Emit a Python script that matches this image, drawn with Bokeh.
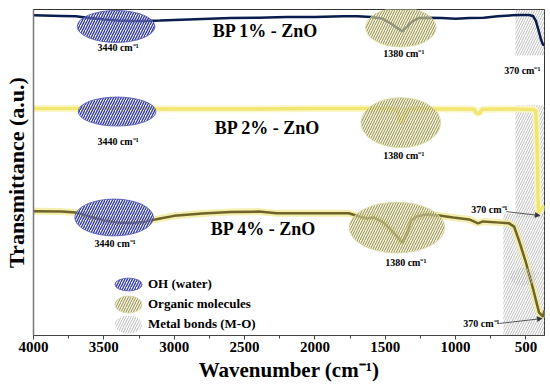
from bokeh.plotting import figure
from bokeh.models import (Range1d, FixedTicker, Label, Arrow, NormalHead,
                          Legend, LegendItem, ColumnDataSource)
from bokeh.embed import file_html
from bokeh.resources import INLINE

# ---------------- data ----------------
series_names = ["BP 1% - ZnO", "BP 2% - ZnO", "BP 4% - ZnO"]

wn_bp1 = [4000, 3800, 3700, 3600, 3500, 3400, 3300, 3200, 3100, 3000,
          2800, 2600, 2400, 2200, 2000, 1800, 1700, 1600, 1520, 1460,
          1410, 1380, 1350, 1310, 1260, 1200, 1100, 1000, 900, 800,
          700, 600, 540, 480, 450, 430, 410, 395, 380, 370]
t_bp1 = [98.2, 98.0, 97.9, 97.4, 96.9, 96.6, 96.5, 96.5, 96.6, 96.8,
         97.1, 97.4, 97.5, 97.7, 97.7, 97.9, 97.9, 97.7, 97.2, 95.7,
         94.2, 93.3, 94.5, 96.3, 97.4, 97.5, 97.4, 97.2, 97.4, 97.5,
         97.9, 98.2, 98.3, 98.3, 98.0, 96.6, 93.6, 91.1, 89.3, 89.0]

wn_bp2 = [4000, 3500, 3000, 2500, 2000, 1600, 1450, 1410, 1395, 1370,
          1350, 1300, 1000, 870, 850, 830, 810, 600, 450, 430,
          420, 412, 400, 385, 372]
t_bp2 = [69.6, 69.6, 69.5, 69.5, 69.6, 69.6, 69.5, 69.2, 65.8, 65.8,
         69.2, 69.5, 69.5, 69.4, 68.2, 68.2, 69.4, 69.5, 69.3, 69.0,
         56.7, 37.7, 38.3, 39.0, 39.9]

wn_bp4 = [4000, 3800, 3700, 3600, 3500, 3400, 3300, 3200, 3100, 3000,
          2800, 2600, 2400, 2270, 1760, 1683, 1633, 1584, 1513, 1442,
          1378, 1343, 1314, 1279, 1208, 1116, 1017, 903, 840, 804,
          712, 620, 584, 549, 500, 450, 407, 379, 368]
t_bp4 = [38.1, 38.0, 37.7, 36.5, 35.3, 34.7, 34.5, 35.0, 35.9, 36.7,
         37.4, 37.9, 38.0, 37.5, 37.5, 36.5, 35.9, 36.2, 34.7, 31.6,
         28.5, 31.6, 35.3, 36.5, 37.1, 36.8, 36.2, 35.6, 34.4, 35.0,
         34.7, 34.4, 33.4, 29.1, 22.4, 14.4, 7.1, 5.8, 7.7]

x_ticks = [4000, 3500, 3000, 2500, 2000, 1500, 1000, 500]
x_minor = [3750, 3250, 2750, 2250, 1750, 1250, 750]

peak_texts = ["3440 cm\u207b\u00b9", "1380 cm\u207b\u00b9", "370 cm\u207b\u00b9"]
legend_labels = ["OH (water)", "Organic molecules", "Metal bonds (M-O)"]
x_title = "Wavenumber (cm\u207b\u00b9)"
y_title = "Transmittance (a.u.)"

# band highlight regions (annotations)
oh_x = [3413, 3406, 3427]
oh_y = [94.8, 68.7, 36.2]
oh_w = [552, 552, 559]
oh_h = [9.8, 8.9, 11.3]

org_x = [1389, 1389, 1417]
org_y = [94.5, 65.3, 33.1]
org_w = [502, 566, 679]
org_h = [12.0, 15.3, 15.6]

mo_left = [575, 575, 660]
mo_right = [368, 368, 368]
mo_top = [100, 70.6, 37.4]
mo_bottom = [85.9, 36.2, 0]

# text annotation positions
name_x = [2351, 2337, 2366]
name_y = [93.3, 63.5, 32.8]
oh_lab_x = [3399, 3399, 3420]
oh_lab_y = [88.3, 59.5, 28.2]
org_lab_x = [1368, 1368, 1354]
org_lab_y = [86.5, 55.2, 22.4]
mo_lab_x = [526, 759, 816]
mo_lab_y = [81.3, 38.6, 3.7]
arrow_x0 = [639, 689]
arrow_y0 = [38.0, 3.7]
arrow_x1 = [399, 384]
arrow_y1 = [36.8, 5.2]

SERIF = "Liberation Serif"

p = figure(width=548, height=384, output_backend="svg", toolbar_location=None,
           x_range=Range1d(4000, 368), y_range=Range1d(0, 100),
           min_border_left=31, min_border_right=4, min_border_top=9,
           min_border_bottom=49)
p.xgrid.visible = False
p.ygrid.visible = False
p.outline_line_color = "#333333"
p.outline_line_width = 1
p.background_fill_color = "white"

# x axis
p.xaxis.ticker = FixedTicker(ticks=x_ticks, minor_ticks=x_minor)
p.xaxis.major_label_text_font = SERIF
p.xaxis.major_label_text_font_style = "bold"
p.xaxis.major_label_text_font_size = "15px"
p.xaxis.major_label_text_color = "black"
p.xaxis.major_tick_in = 0
p.xaxis.major_tick_out = 4
p.xaxis.minor_tick_in = 0
p.xaxis.minor_tick_out = 3
p.xaxis.major_label_standoff = 2
p.xaxis.axis_line_color = "#444444"
p.xaxis.major_tick_line_color = "#444444"
p.xaxis.minor_tick_line_color = "#444444"
p.xaxis.axis_label = x_title
p.xaxis.axis_label_text_font = SERIF
p.xaxis.axis_label_text_font_style = "bold"
p.xaxis.axis_label_text_font_size = "21px"
p.xaxis.axis_label_text_color = "black"
p.xaxis.axis_label_standoff = 3

# y axis
p.yaxis.ticker = FixedTicker(ticks=[])
p.yaxis.major_tick_out = 0
p.yaxis.major_tick_in = 0
p.yaxis.minor_tick_out = 0
p.yaxis.minor_tick_in = 0
p.yaxis.axis_line_color = "#7a7a7a"
p.yaxis.axis_line_width = 1.5
p.yaxis.axis_label = y_title
p.yaxis.axis_label_text_font = SERIF
p.yaxis.axis_label_text_font_style = "bold"
p.yaxis.axis_label_text_font_size = "22px"
p.yaxis.axis_label_text_color = "black"
p.yaxis.axis_label_standoff = 5

HS = 5

# metal bond regions
p.quad(left=mo_left, right=mo_right, top=mo_top, bottom=mo_bottom,
       fill_color="white", fill_alpha=0.0, line_color=None,
       hatch_pattern="/", hatch_color="#bdbdbd", hatch_scale=HS, hatch_weight=1.0)

# series lines
p.line(wn_bp2, t_bp2, line_color="#faf5c4", line_width=7, line_alpha=0.9)
p.line(wn_bp2, t_bp2, line_color="#f2e672", line_width=3.5)
p.line(wn_bp4, t_bp4, line_color="#f1ea9c", line_width=7, line_alpha=0.8)
p.line(wn_bp4, t_bp4, line_color="#6e6428", line_width=2.5)
p.line(wn_bp1, t_bp1, line_color="#0b1d4e", line_width=2.5)

# band ellipses
r_oh = p.ellipse(x=oh_x, y=oh_y, width=oh_w, height=oh_h,
                 fill_color="#e8eaf8", fill_alpha=0.4,
                 line_color="#4b52b2", line_width=0.8,
                 hatch_pattern="/", hatch_color="#2f37a3", hatch_scale=HS, hatch_weight=1.3)
r_org = p.ellipse(x=org_x, y=org_y, width=org_w, height=org_h,
                  fill_color="#f4f1c8", fill_alpha=0.6,
                  line_color="#dcd7a0", line_width=0.8,
                  hatch_pattern="/", hatch_color="#8d8850", hatch_scale=HS, hatch_weight=1.0)
# grey ellipse (legend key for the metal-bond regions), sits inside the last region
mo_key_src = ColumnDataSource(dict(x=[519], y=[18.0], w=[191], h=[5.5]))
r_mo = p.ellipse(x="x", y="y", width="w", height="h", source=mo_key_src,
                 fill_alpha=0.0, line_color=None,
                 hatch_pattern="/", hatch_color="#bdbdbd", hatch_scale=HS, hatch_weight=1.0)

# texts
for i, name in enumerate(series_names):
    p.add_layout(Label(x=name_x[i], y=name_y[i], text=name, text_align="center",
                       text_baseline="middle", text_font=SERIF, text_font_style="bold",
                       text_font_size="18px", text_color="black"))
for xs, ys, t in [(oh_lab_x, oh_lab_y, peak_texts[0]),
                  (org_lab_x, org_lab_y, peak_texts[1]),
                  (mo_lab_x, mo_lab_y, peak_texts[2])]:
    for i in range(len(xs)):
        p.add_layout(Label(x=xs[i], y=ys[i], text=t, text_align="center",
                           text_baseline="middle", text_font=SERIF, text_font_style="bold",
                           text_font_size="10px", text_color="black"))
for i in range(len(arrow_x0)):
    p.add_layout(Arrow(end=NormalHead(size=5, fill_color="#333333", line_color="#333333",
                                      line_width=0.5),
                       x_start=arrow_x0[i], y_start=arrow_y0[i],
                       x_end=arrow_x1[i], y_end=arrow_y1[i],
                       line_color="#333333", line_width=0.8))

# legend: one small legend per entry so the keys can be large and close together
leg_items = [(legend_labels[0], r_oh, 2), (legend_labels[1], r_org, 1),
             (legend_labels[2], r_mo, 0)]
for k, (lab, rend, idx) in enumerate(leg_items):
    lg = Legend(items=[LegendItem(label=lab, renderers=[rend], index=idx)],
                location=(78, 34 - 20 * k), glyph_width=34, glyph_height=34,
                label_height=34, padding=0, margin=0, label_standoff=3,
                label_text_font=SERIF, label_text_font_style="bold",
                label_text_font_size="13px", label_text_color="black",
                border_line_alpha=0, background_fill_alpha=0)
    p.add_layout(lg)

open("out.html", "w").write(file_html(p, INLINE))
